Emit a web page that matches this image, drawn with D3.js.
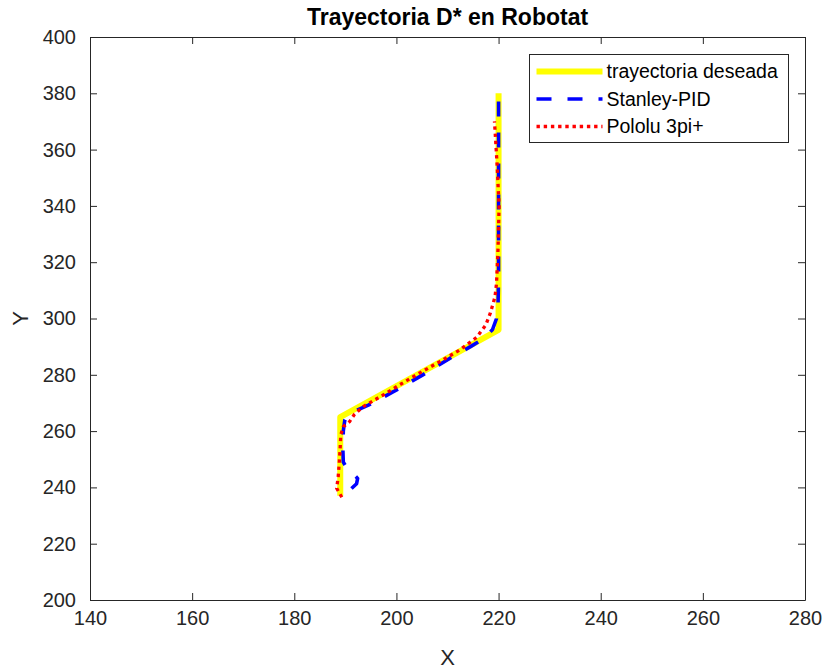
<!DOCTYPE html>
<html>
<head>
<meta charset="utf-8">
<script src="https://cdn.jsdelivr.net/npm/d3@7"></script>
<style>
  body { margin: 0; background: #fff; }
  svg { display: block; font-family: 'Liberation Sans', Arial, sans-serif; }
</style>
</head>
<body>
<svg id="chart"></svg>
<script>
// trajectory data
const desiredX = [189, 189, 220, 220];
const desiredY = [237, 265, 296, 380];

const stanleyX = [191.2, 192.2, 192.4, 191.7, 190.4, 189.6, 189.5, 189.6, 189.9, 190.6, 192.0, 194.5, 199.4, 205.0, 210.5, 214.5, 217.0, 218.8, 219.6, 219.9, 220.0, 220.0, 220.0];
const stanleyY = [239.6, 241.3, 243.2, 244.5, 246.5, 249.0, 254.0, 260.0, 264.0, 266.0, 267.2, 269.2, 274.0, 279.8, 285.9, 290.0, 292.8, 296.0, 300.0, 305.0, 315.0, 350.0, 380.0];

const pololuX = [189.3, 188.3, 188.6, 188.8, 189.0, 189.1, 189.6, 190.8, 191.8, 193.5, 195.3, 197.5, 200.4, 204.5, 208.5, 212.4, 215.7, 217.5, 218.4, 219.3, 219.6, 219.9, 220.1, 219.7, 219.2];
const pololuY = [236.5, 239.7, 243.8, 248.6, 254.5, 258.6, 261.6, 263.3, 266.0, 268.7, 270.6, 272.9, 276.2, 280.6, 284.7, 288.8, 293.3, 297.7, 302.0, 307.7, 312.5, 325.0, 340.0, 355.0, 370.0];

const xTicks = [140, 160, 180, 200, 220, 240, 260, 280];
const yTicks = [200, 220, 240, 260, 280, 300, 320, 340, 360, 380, 400];

const seriesNames = ['trayectoria deseada', 'Stanley-PID', 'Pololu 3pi+'];

const width = 827, height = 670;
const margin = {top: 37, right: 22, bottom: 70, left: 90};
const axisColor = '#262626';

const svg = d3.select('#chart')
    .attr('width', width)
    .attr('height', height);

const x = d3.scaleLinear().domain([140, 280]).range([margin.left, width - margin.right]);
const y = d3.scaleLinear().domain([200, 400]).range([height - margin.bottom, margin.top]);

const zip = (xs, ys) => xs.map((v, i) => [v, ys[i]]);
const line = d3.line().x(d => x(d[0])).y(d => y(d[1]));

const series = [
    {name: seriesNames[0], pts: zip(desiredX, desiredY), color: '#ffff00', w: 6, dash: null},
    {name: seriesNames[1], pts: zip(stanleyX, stanleyY), color: '#0000ff', w: 3.6, dash: '15,16'},
    {name: seriesNames[2], pts: zip(pololuX, pololuY), color: '#ff0000', w: 3.3, dash: '3.4,3.8'}
];

// lines, clipped to the axes box
svg.append('clipPath').attr('id', 'clip')
  .append('rect')
    .attr('x', margin.left).attr('y', margin.top)
    .attr('width', x.range()[1] - margin.left)
    .attr('height', y.range()[0] - margin.top);

svg.append('g')
    .attr('clip-path', 'url(#clip)')
  .selectAll('path')
  .data(series)
  .join('path')
    .attr('d', d => line(d.pts))
    .attr('fill', 'none')
    .attr('stroke', d => d.color)
    .attr('stroke-width', d => d.w)
    .attr('stroke-dasharray', d => d.dash)
    .attr('stroke-linejoin', 'round');

// axes (MATLAB-style box with inward ticks)
const tickLen = 7;
const styleAxis = g => {
    g.select('.domain').attr('stroke', axisColor).attr('stroke-width', 1);
    g.selectAll('.tick line').attr('stroke', axisColor).attr('stroke-width', 1);
    g.selectAll('.tick text').attr('fill', axisColor).style('font-size', '20px');
};

svg.append('g')
    .attr('transform', `translate(0,${y.range()[0]})`)
    .call(d3.axisBottom(x).tickValues(xTicks).tickSizeInner(-tickLen).tickSizeOuter(0).tickPadding(11))
    .call(styleAxis);

svg.append('g')
    .attr('transform', `translate(0,${margin.top})`)
    .call(d3.axisTop(x).tickValues(xTicks).tickSizeInner(-tickLen).tickSizeOuter(0).tickFormat(''))
    .call(styleAxis);

svg.append('g')
    .attr('transform', `translate(${margin.left},0)`)
    .call(d3.axisLeft(y).tickValues(yTicks).tickSizeInner(-tickLen).tickSizeOuter(0).tickPadding(14))
    .call(styleAxis);

svg.append('g')
    .attr('transform', `translate(${x.range()[1]},0)`)
    .call(d3.axisRight(y).tickValues(yTicks).tickSizeInner(-tickLen).tickSizeOuter(0).tickFormat(''))
    .call(styleAxis);

// title and axis labels
svg.append('text')
    .attr('x', (x.range()[0] + x.range()[1]) / 2)
    .attr('y', 25)
    .attr('text-anchor', 'middle')
    .attr('fill', '#000')
    .style('font-size', '23px')
    .style('font-weight', 'bold')
    .text('Trayectoria D* en Robotat');

svg.append('text')
    .attr('x', (x.range()[0] + x.range()[1]) / 2)
    .attr('y', 665)
    .attr('text-anchor', 'middle')
    .attr('fill', axisColor)
    .style('font-size', '22px')
    .text('X');

svg.append('text')
    .attr('transform', `translate(28,${(y.range()[0] + y.range()[1]) / 2}) rotate(-90)`)
    .attr('text-anchor', 'middle')
    .attr('fill', axisColor)
    .style('font-size', '22px')
    .text('Y');

// legend
const legend = svg.append('g').attr('transform', 'translate(529.5,54.5)');
legend.append('rect')
    .attr('width', 259).attr('height', 88)
    .attr('fill', '#fff')
    .attr('stroke', axisColor)
    .attr('stroke-width', 1);

const item = legend.selectAll('g.item')
  .data(series)
  .join('g')
    .attr('class', 'item')
    .attr('transform', (d, i) => `translate(0,${17 + i * 27.5})`);

item.append('line')
    .attr('x1', 7).attr('x2', 73)
    .attr('stroke', d => d.color)
    .attr('stroke-width', d => d.w)
    .attr('stroke-dasharray', d => d.dash);

item.append('text')
    .attr('x', 77)
    .attr('dy', '0.35em')
    .attr('fill', '#000')
    .style('font-size', '19.5px')
    .text(d => d.name);
</script>
</body>
</html>
